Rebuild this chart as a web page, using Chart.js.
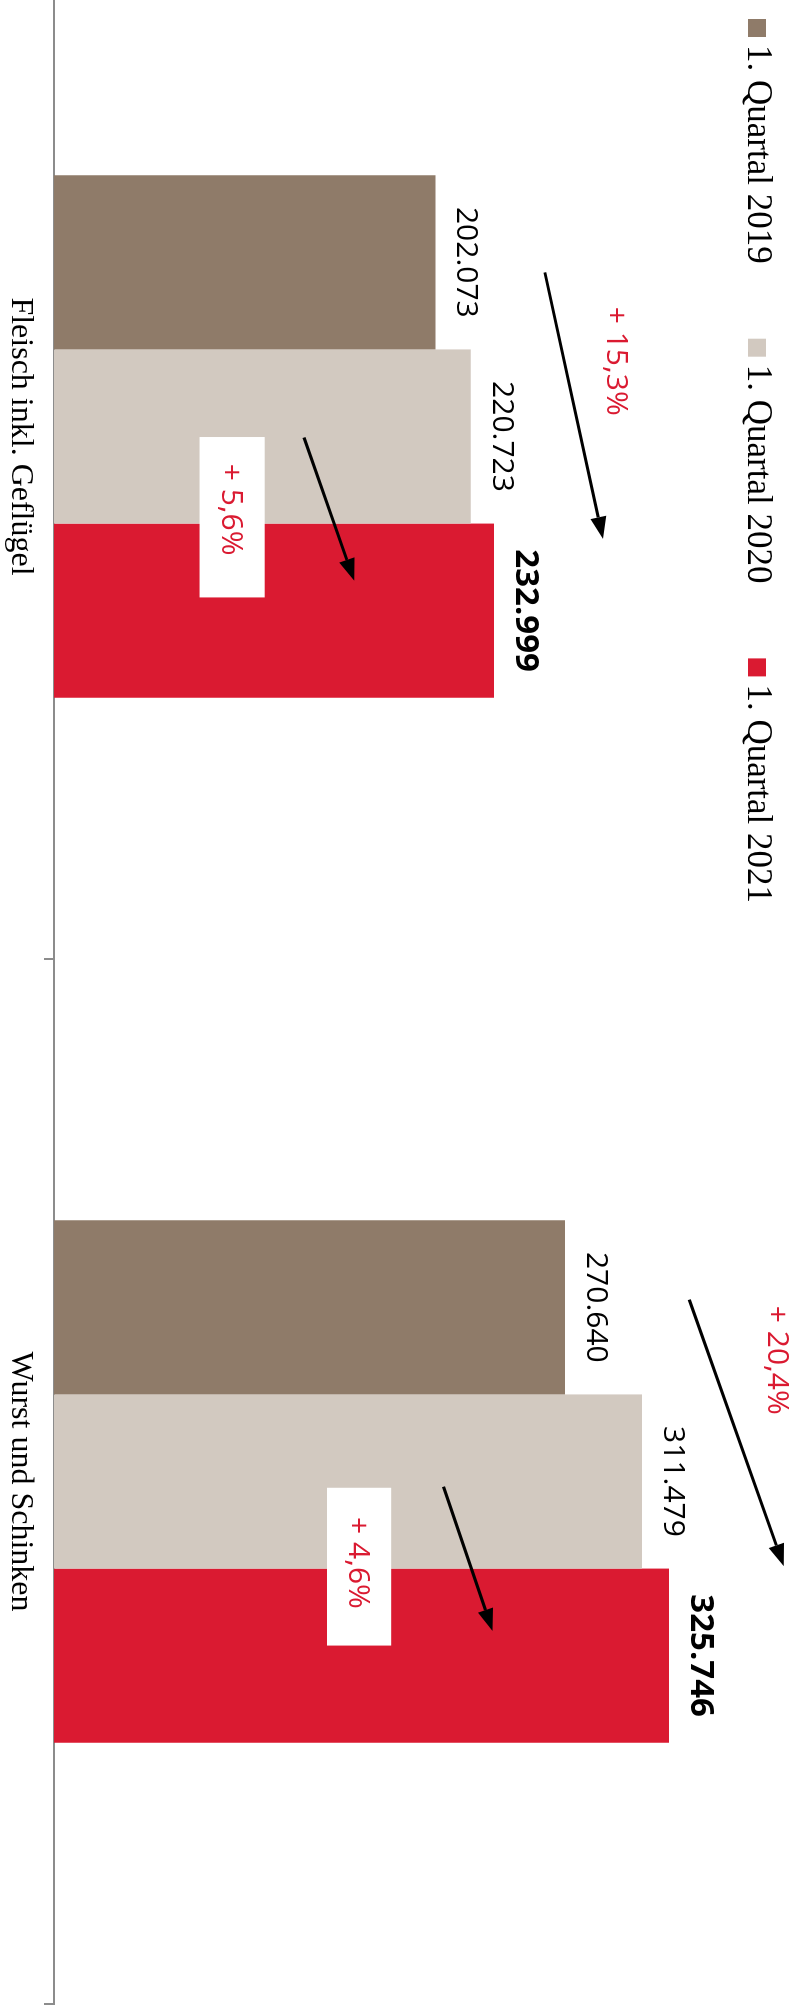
<!DOCTYPE html>
<html>
<head>
<meta charset="utf-8">
<script src="https://cdn.jsdelivr.net/npm/chart.js@4.4.0/dist/chart.umd.min.js"></script>
<style>
html, body { margin: 0; padding: 0; background: #fff; }
#page { position: relative; width: 795px; height: 2006px; overflow: hidden; }
/* chart is drawn lying down and turned a quarter clockwise */
#rot { position: absolute; left: 0; top: 0; width: 2092px; height: 795px;
       transform-origin: 0 0; transform: translate(795px, -86px) rotate(90deg); }
</style>
</head>
<body>
<div id="page"><div id="rot"><canvas id="chart" width="2092" height="795"></canvas></div></div>
<script>
var categories = ['Fleisch inkl. Geflügel', 'Wurst und Schinken'];
var seriesNames = ['1. Quartal 2019', '1. Quartal 2020', '1. Quartal 2021'];
var q2019 = [202073, 270640];
var q2020 = [220723, 311479];
var q2021 = [232999, 325746];
var change2019to2021 = ['+ 15,3%', '+ 20,4%'];
var change2020to2021 = ['+ 5,6%', '+ 4,6%'];
var colors = ['#8f7b69', '#d2c9c0', '#da1a31'];

function fmt(v) {
	return String(v).replace(/\B(?=(\d{3})+(?!\d))/g, '.');
}

// arrows and notes, in category index / fraction of category width / value
var bigArrows = [
	{from: [-0.157, 260000], to: [0.098, 290800], text: [-0.072, 292900]},
	{from: [-0.174, 336500], to: [0.081, 386500], text: [-0.116, 378000]}
];
var smallArrows = [
	{from: [0.001, 132400], to: [0.138, 159000], box: [0.0005, 0.154, 77100, 111600], text: 0.070},
	{from: [0.005, 206300], to: [0.143, 232300], box: [0.006, 0.157, 144600, 178600], text: 0.078}
];

function arrow(ctx, x1, y1, x2, y2) {
	var a = Math.atan2(y2 - y1, x2 - x1), len = 22, hw = 8;
	var bx = x2 - len * Math.cos(a), by = y2 - len * Math.sin(a);
	ctx.beginPath();
	ctx.moveTo(x1, y1);
	ctx.lineTo(bx, by);
	ctx.stroke();
	ctx.beginPath();
	ctx.moveTo(x2, y2);
	ctx.lineTo(bx + hw * Math.sin(a), by - hw * Math.cos(a));
	ctx.lineTo(bx - hw * Math.sin(a), by + hw * Math.cos(a));
	ctx.closePath();
	ctx.fill();
}

var notesPlugin = {
	id: 'notes',
	afterDatasetsDraw: function(chart) {
		var ctx = chart.ctx, xs = chart.scales.x, ys = chart.scales.y;
		var step = xs.getPixelForValue(1) - xs.getPixelForValue(0);
		function px(cat, off) { return xs.getPixelForValue(cat) + off * step; }
		ctx.save();
		// value labels above the bars
		ctx.fillStyle = '#000';
		ctx.textAlign = 'center';
		ctx.textBaseline = 'alphabetic';
		chart.data.datasets.forEach(function(ds, i) {
			ctx.font = (i === 2 ? 'bold 33px' : '30px') + ' "Open Sans"';
			chart.getDatasetMeta(i).data.forEach(function(bar, j) {
				ctx.fillText(fmt(ds.data[j]), bar.x, bar.y - 22);
			});
		});
		ctx.font = '30px "Open Sans"';
		// white boxes with change to previous year
		smallArrows.forEach(function(s, c) {
			var b = s.box;
			var x1 = px(c, b[0]), x2 = px(c, b[1]), y1 = ys.getPixelForValue(b[3]), y2 = ys.getPixelForValue(b[2]);
			ctx.fillStyle = '#fff';
			ctx.fillRect(x1, y1, x2 - x1, y2 - y1);
			ctx.fillStyle = '#da1a31';
			ctx.fillText(change2020to2021[c], px(c, s.text), (y1 + y2) / 2 + 10);
		});
		// change to 2019
		bigArrows.forEach(function(s, c) {
			ctx.fillStyle = '#da1a31';
			ctx.fillText(change2019to2021[c], px(c, s.text[0]), ys.getPixelForValue(s.text[1]));
		});
		ctx.strokeStyle = '#000';
		ctx.fillStyle = '#000';
		ctx.lineWidth = 3;
		bigArrows.concat(smallArrows).forEach(function(s, k) {
			var c = k % 2;
			arrow(ctx, px(c, s.from[0]), ys.getPixelForValue(s.from[1]), px(c, s.to[0]), ys.getPixelForValue(s.to[1]));
		});
		ctx.restore();
	}
};

var legendPlugin = {
	id: 'legendRow',
	afterDraw: function(chart) {
		var ctx = chart.ctx, x = 105;
		ctx.save();
		ctx.font = '35px "Liberation Serif"';
		ctx.textAlign = 'left';
		ctx.textBaseline = 'alphabetic';
		chart.data.datasets.forEach(function(ds) {
			ctx.fillStyle = ds.backgroundColor;
			ctx.fillRect(x, 29, 18, 18);
			ctx.fillStyle = '#000';
			ctx.fillText(ds.label, x + 26, 47);
			x += 26 + ctx.measureText(ds.label).width + 75;
		});
		ctx.restore();
	}
};

Chart.defaults.font.family = '"Liberation Serif", serif';

var ctx = document.getElementById('chart').getContext('2d');
var myChart = new Chart(ctx, {
	type: 'bar',
	data: {
		labels: categories,
		datasets: [
			{label: seriesNames[0], data: q2019, backgroundColor: colors[0]},
			{label: seriesNames[1], data: q2020, backgroundColor: colors[1]},
			{label: seriesNames[2], data: q2021, backgroundColor: colors[2]}
		]
	},
	options: {
		responsive: false,
		animation: false,
		categoryPercentage: 0.5,
		barPercentage: 1.0,
		layout: {padding: {top: 84, left: 0, right: 2, bottom: 0}},
		plugins: {legend: {display: false}, tooltip: {enabled: false}},
		scales: {
			x: {
				offset: true,
				grid: {offset: true, drawOnChartArea: false, drawTicks: true, tickLength: 10, color: '#8c8c8c', lineWidth: 2},
				border: {display: true, color: '#8c8c8c', width: 2},
				ticks: {color: '#000', font: {size: 32}, padding: 4, maxRotation: 0, autoSkip: false},
				afterFit: function(scale) { scale.height = 54; }
			},
			y: {display: false, min: 0, max: 348000}
		}
	},
	plugins: [notesPlugin, legendPlugin]
});
</script>
</body>
</html>
